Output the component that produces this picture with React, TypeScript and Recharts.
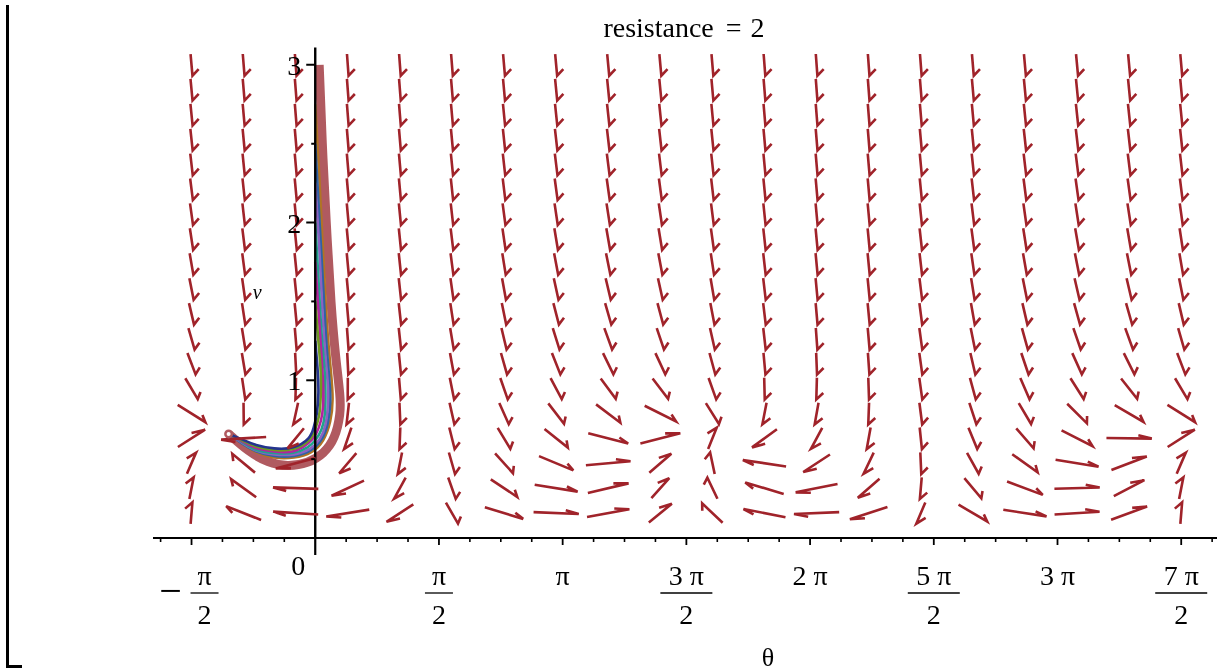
import { ComposedChart, XAxis, YAxis, Scatter, Line, ReferenceLine } from "recharts";

const RESISTANCE = 2;

// grid of the direction field
const fieldTheta = [
  -1.571, -0.909, -0.248, 0.413, 1.075, 1.736, 2.397, 3.059, 3.72, 4.382,
  5.043, 5.704, 6.366, 7.027, 7.689, 8.35, 9.011, 9.673, 10.334, 10.996,
];
const fieldV = [
  0.158, 0.316, 0.474, 0.632, 0.789, 0.947, 1.105, 1.263, 1.421, 1.579,
  1.737, 1.895, 2.053, 2.211, 2.368, 2.526, 2.684, 2.842, 3.0,
];

// solution curves [theta, v]
const trajV300 = [[0.05, 3.0], [0.09, 2.5], [0.14, 2.0], [0.2, 1.5], [0.26, 1.15], [0.31, 0.92], [0.31, 0.78], [0.24, 0.64], [0.1, 0.54], [-0.1, 0.48], [-0.35, 0.46], [-0.6, 0.485], [-0.85, 0.555], [-1.1, 0.66]];
const trajV275 = [[0, 2.75], [0.05, 2.3], [0.1, 1.8], [0.15, 1.35], [0.2, 1.05], [0.22, 0.88], [0.19, 0.74], [0.1, 0.62], [-0.05, 0.545], [-0.27, 0.51], [-0.52, 0.51], [-0.75, 0.545], [-0.93, 0.6], [-1.1, 0.66]];
const trajV250 = [[0, 2.5], [0.05, 2.05], [0.1, 1.6], [0.14, 1.25], [0.18, 1.0], [0.19, 0.86], [0.16, 0.73], [0.08, 0.625], [-0.06, 0.555], [-0.27, 0.52], [-0.52, 0.52], [-0.75, 0.55], [-0.93, 0.6], [-1.1, 0.66]];
const trajV225 = [[0, 2.25], [0.05, 1.85], [0.09, 1.45], [0.13, 1.15], [0.16, 0.97], [0.16, 0.84], [0.13, 0.72], [0.06, 0.63], [-0.07, 0.565], [-0.27, 0.53], [-0.52, 0.53], [-0.75, 0.555], [-0.93, 0.605], [-1.1, 0.66]];
const trajV200 = [[0, 2.0], [0.04, 1.65], [0.08, 1.3], [0.12, 1.05], [0.13, 0.9], [0.12, 0.78], [0.08, 0.69], [0.0, 0.62], [-0.1, 0.575], [-0.28, 0.54], [-0.52, 0.54], [-0.75, 0.56], [-0.93, 0.61], [-1.1, 0.66]];
const trajV175 = [[0, 1.75], [0.04, 1.45], [0.08, 1.15], [0.1, 0.97], [0.1, 0.84], [0.07, 0.74], [0.01, 0.66], [-0.09, 0.6], [-0.28, 0.55], [-0.52, 0.548], [-0.75, 0.57], [-0.93, 0.615], [-1.1, 0.66]];
const trajV150 = [[0, 1.5], [0.04, 1.25], [0.07, 1.05], [0.07, 0.9], [0.05, 0.78], [0.0, 0.69], [-0.08, 0.62], [-0.28, 0.565], [-0.52, 0.558], [-0.75, 0.58], [-0.93, 0.62], [-1.1, 0.66]];
const trajV125 = [[0, 1.25], [0.03, 1.07], [0.04, 0.92], [0.02, 0.79], [-0.02, 0.7], [-0.09, 0.63], [-0.28, 0.575], [-0.52, 0.568], [-0.75, 0.59], [-0.93, 0.625], [-1.1, 0.66]];

const curveColors = ["#b05a60", "#b07424", "#2f62a6", "#8a62c2", "#22a08c", "#b4229e", "#6f9a22", "#24348e"];
const curveWidths = [9, 2.6, 2.6, 2.6, 2.6, 2.6, 2.6, 2.6];
const curves = [trajV300, trajV275, trajV250, trajV225, trajV200, trajV175, trajV150, trajV125];

// axes
const xTickSteps = [-5, -4, -3, -2, -1, 0, 1, 2, 3, 4, 5, 6, 7, 8, 9, 10, 11, 12, 13, 14, 15, 16, 17, 18, 19, 20, 21, 22, 23, 24, 25, 26, 27, 28, 29];
const xMajorSteps = [-4, 0, 4, 8, 12, 16, 20, 24, 28];
const xMajorNum = ["π", "0", "π", "π", "3 π", "2 π", "5 π", "3 π", "7 π"];
const xMajorDen = ["2", "", "2", "", "2", "", "2", "", "2"];
const yTickValues = [0.5, 1, 1.5, 2, 2.5, 3];
const yTickLabels = ["", "1", "", "2", "", "3"];

const W = 1220;
const H = 672;
const MARGIN = { top: 47.5, right: 3, left: 153, bottom: 34 };
const X_AXIS_H = 100;
const X_DOMAIN: [number, number] = [-2.06, 11.45];
const Y_DOMAIN: [number, number] = [0, 3.11];
const PX_X = (W - MARGIN.left - MARGIN.right) / (X_DOMAIN[1] - X_DOMAIN[0]);
const PX_Y = (H - MARGIN.top - MARGIN.bottom - X_AXIS_H) / (Y_DOMAIN[1] - Y_DOMAIN[0]);
const D_THETA = fieldTheta[1] - fieldTheta[0];
const D_V = fieldV[1] - fieldV[0];
const CELL_W = D_THETA * PX_X;
const CELL_H = D_V * PX_Y;
const ARROW_LEN = 0.87;
const ARROW_COLOR = "#a0232a";
const FONT = '"Liberation Serif", "Times New Roman", serif';

// phugoid: theta' = (v^2 - cos theta)/v, v' = -sin theta - R v^2
const fieldData = fieldV.flatMap((v) =>
  fieldTheta.map((t) => ({
    x: t,
    y: v,
    dx: (v * v - Math.cos(t)) / v,
    dy: -Math.sin(t) - RESISTANCE * v * v,
  }))
);

const yTickData = yTickValues.map((v, i) => ({ x: 0, y: v, label: yTickLabels[i] }));

const Arrow = (props: any) => {
  const { cx, cy, payload } = props;
  const a = payload.dx / D_THETA;
  const b = payload.dy / D_V;
  const n = Math.hypot(a, b) || 1;
  const ux = a / n;
  const uy = b / n;
  const hx = (ux * ARROW_LEN * CELL_W) / 2;
  const hy = (-uy * ARROW_LEN * CELL_H) / 2;
  const tx = cx + hx;
  const ty = cy + hy;
  const bx = tx + (-0.3 * ARROW_LEN * ux - 0.13 * uy) * CELL_W;
  const by = ty - (-0.3 * ARROW_LEN * uy + 0.13 * ux) * CELL_H;
  return (
    <path
      d={`M${cx - hx},${cy - hy}L${tx},${ty}L${bx},${by}`}
      stroke={ARROW_COLOR}
      strokeWidth={2.6}
      strokeLinejoin="miter"
      fill="none"
    />
  );
};

const YTick = (props: any) => {
  const { cx, cy, payload } = props;
  const len = payload.label ? 9 : 4;
  return (
    <g>
      <line x1={cx - len} x2={cx} y1={cy} y2={cy} stroke="#000" strokeWidth={2} />
      {payload.label && (
        <text x={cx - 14} y={cy + 10} textAnchor="end" fontSize={28} fontFamily={FONT} fill="#000">
          {payload.label}
        </text>
      )}
    </g>
  );
};

const XTick = (props: any) => {
  const { x, y, payload } = props;
  const k = Math.round(payload.value / (Math.PI / 8));
  const i = xMajorSteps.indexOf(k);
  if (i < 0) return <line x1={x} x2={x} y1={y} y2={y + 4} stroke="#000" strokeWidth={1.6} />;
  if (k === 0)
    return (
      <g>
        <line x1={x} x2={x} y1={y} y2={y + 17} stroke="#000" strokeWidth={2.2} />
        <text x={x - 17} y={y + 37} textAnchor="middle" fontSize={28} fontFamily={FONT} fill="#000">
          0
        </text>
      </g>
    );
  const num = xMajorNum[i];
  const den = xMajorDen[i];
  const cx = k < 0 ? x + 13 : x;
  const hw = num.length > 1 ? 26 : 14;
  return (
    <g>
      <line x1={x} x2={x} y1={y} y2={y + 7} stroke="#000" strokeWidth={1.8} />
      {k < 0 && (
        <text x={x - 21} y={y + 66} textAnchor="middle" fontSize={40} fontFamily={FONT} fill="#000">
          −
        </text>
      )}
      <text x={cx} y={y + 47} textAnchor="middle" fontSize={28} fontFamily={FONT} fill="#000">
        {num}
      </text>
      {den && (
        <g>
          <line x1={cx - hw} x2={cx + hw} y1={y + 55} y2={y + 55} stroke="#000" strokeWidth={1.3} />
          <text x={cx} y={y + 86} textAnchor="middle" fontSize={28} fontFamily={FONT} fill="#000">
            {den}
          </text>
        </g>
      )}
    </g>
  );
};

const ThetaLabel = (props: any) => {
  const vb = props.viewBox;
  return (
    <text x={vb.x + vb.width / 2 + 83} y={vb.y + 128} textAnchor="middle" fontSize={26} fontFamily={FONT} fill="#000">
      θ
    </text>
  );
};

const VLabel = (props: any) => {
  const vb = props.viewBox;
  return (
    <text x={vb.x - 58} y={vb.y + vb.height / 2 + 6} textAnchor="middle" fontSize={20} fontStyle="italic" fontFamily={FONT} fill="#000">
      v
    </text>
  );
};

const EndDot = (props: any) => {
  const { cx, cy, index } = props;
  if (index !== trajV300.length - 1) return <g key={`d-${index}`} />;
  return (
    <g key={`d-${index}`}>
      <circle cx={cx} cy={cy} r={4.5} fill={curveColors[0]} />
      <circle cx={cx} cy={cy} r={2} fill="#fff" />
    </g>
  );
};

function App() {
  return (
    <div style={{ position: "fixed", left: 0, top: 0, width: W, height: H, background: "#fff" }}>
      <div
        style={{
          position: "absolute",
          left: 0,
          top: 14,
          width: 1368,
          textAlign: "center",
          fontFamily: FONT,
          fontSize: 28,
          lineHeight: "27px",
          color: "#000",
        }}
      >
        resistance <span style={{ marginLeft: 5 }}>=</span>
        <span style={{ marginLeft: 9 }}>2</span>
      </div>
      <div
        style={{
          position: "absolute",
          left: 6,
          top: 5,
          width: 13,
          height: 660,
          borderLeft: "3px solid #000",
          borderBottom: "3px solid #000",
        }}
      />
      <ComposedChart width={W} height={H} margin={MARGIN} style={{ position: "absolute", left: 0, top: 0 }}>
        <XAxis
          type="number"
          dataKey="x"
          domain={X_DOMAIN}
          allowDataOverflow
          ticks={xTickSteps.map((k) => (k * Math.PI) / 8)}
          interval={0}
          tickSize={0}
          tickMargin={0}
          tickLine={false}
          tick={<XTick />}
          height={X_AXIS_H}
          axisLine={{ stroke: "#000", strokeWidth: 2 }}
          label={<ThetaLabel />}
        />
        <YAxis type="number" dataKey="y" domain={Y_DOMAIN} allowDataOverflow hide />
        <Scatter data={fieldData} dataKey="y" shape={<Arrow />} isAnimationActive={false} />
        {curves.map((c, i) => (
          <Line
            key={`traj-${i}`}
            data={c.map(([t, v]) => ({ x: t, y: v }))}
            dataKey="y"
            type="natural"
            stroke={curveColors[i]}
            strokeWidth={curveWidths[i]}
            strokeLinejoin="round"
            dot={i === 0 ? EndDot : false}
            activeDot={false}
            isAnimationActive={false}
          />
        ))}
        <ReferenceLine x={0} stroke="#000" strokeWidth={2.4} label={<VLabel />} />
        <Scatter data={yTickData} dataKey="y" shape={<YTick />} isAnimationActive={false} />
      </ComposedChart>
    </div>
  );
}

export default App;
